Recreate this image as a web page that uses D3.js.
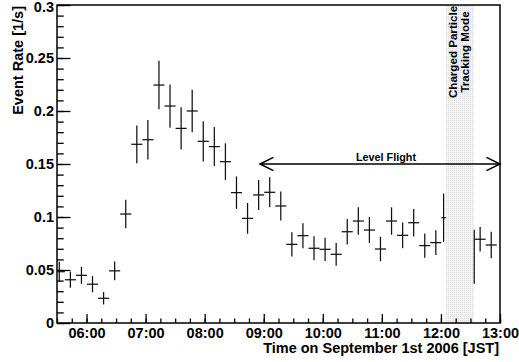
<!DOCTYPE html>
<html>
<head>
<meta charset="utf-8">
<script src="https://cdn.jsdelivr.net/npm/d3@7"></script>
<style>
  html, body { margin: 0; padding: 0; background: #fff; }
  svg { display: block; }
  text { font-family: "Liberation Sans", Arial, Helvetica, sans-serif; font-weight: bold; fill: #000; }
</style>
</head>
<body>
<svg id="chart" width="519" height="362"></svg>
<script>
// ---------------- data ----------------
const binStart = ["05:26:42","05:37:57","05:49:12","06:00:27","06:11:42","06:22:57","06:34:12","06:45:27",
  "06:56:42","07:07:57","07:19:12","07:30:27","07:41:42","07:52:57","08:04:12","08:15:27","08:26:42",
  "08:37:57","08:49:12","09:00:27","09:11:42","09:22:57","09:34:12","09:45:27","09:56:42","10:07:57",
  "10:19:12","10:30:27","10:41:42","10:52:57","11:04:12","11:15:27","11:26:42","11:37:57","11:49:12",
  "12:00:27","12:33:30","12:34:12","12:45:27"];
const binEnd = ["05:37:57","05:49:12","06:00:27","06:11:42","06:22:57","06:34:12","06:45:27","06:56:42",
  "07:07:57","07:19:12","07:30:27","07:41:42","07:52:57","08:04:12","08:15:27","08:26:42","08:37:57",
  "08:49:12","09:00:27","09:11:42","09:22:57","09:34:12","09:45:27","09:56:42","10:07:57","10:19:12",
  "10:30:27","10:41:42","10:52:57","11:04:12","11:15:27","11:26:42","11:37:57","11:49:12","12:00:27",
  "12:05:00","12:34:12","12:45:27","12:56:42"];
const rates = [0.0484,0.0408,0.0450,0.0366,0.0233,0.0492,0.1028,0.1686,0.1729,0.2245,0.2047,0.1836,
  0.2000,0.1714,0.1664,0.1522,0.1230,0.0987,0.1208,0.1233,0.1104,0.0742,0.0824,0.0705,0.0695,0.0648,
  0.0861,0.0962,0.0877,0.0698,0.0962,0.0827,0.0946,0.0730,0.0758,0.0993,0.0625,0.0790,0.0736];
const errors = [0.0094,0.0075,0.0080,0.0077,0.0058,0.0089,0.0134,0.0178,0.0186,0.0228,0.0204,0.0200,
  0.0201,0.0190,0.0184,0.0173,0.0153,0.0145,0.0142,0.0142,0.0137,0.0115,0.0118,0.0113,0.0110,0.0107,
  0.0121,0.0129,0.0123,0.0115,0.0129,0.0121,0.0129,0.0115,0.0116,0.0228,0.0255,0.0116,0.0126];

const xDomain = ["05:30:00", "13:00:00"];
const xTicks = ["06:00:00","07:00:00","08:00:00","09:00:00","10:00:00","11:00:00","12:00:00","13:00:00"];
const xTickLabels = ["06:00","07:00","08:00","09:00","10:00","11:00","12:00","13:00"];
const yDomain = [0, 0.3];
const yTicks = [0, 0.05, 0.1, 0.15, 0.2, 0.25, 0.3];
const yTickLabels = ["0", "0.05", "0.1", "0.15", "0.2", "0.25", "0.3"];

const bandTimes = ["12:05:00", "12:33:30"];
const bandLabel = ["Charged Particle", "Tracking Mode"];
const levelFlightTimes = ["08:56:10", "13:00:00"];
const levelFlightLabel = "Level Flight";
const xTitle = "Time on September 1st 2006 [JST]";
const yTitle = "Event Rate [1/s]";

// ---------------- layout ----------------
const mLeft = 57, mRight = 500, mTop = 5, mBottom = 323;
const FS = 14.5;

const parse = d3.timeParse("%H:%M:%S");
const x = d3.scaleTime().domain(xDomain.map(parse)).range([mLeft, mRight]);
const y = d3.scaleLinear().domain(yDomain).range([mBottom, mTop]);

const svg = d3.select("#chart");
const defs = svg.append("defs");
const pat = defs.append("pattern").attr("id", "dots").attr("patternUnits", "userSpaceOnUse")
  .attr("width", 2).attr("height", 2);
pat.append("rect").attr("width", 2).attr("height", 2).attr("fill", "#f4f4f4");
pat.append("rect").attr("width", 1).attr("height", 1).attr("fill", "#dcdcdc");
defs.append("clipPath").attr("id", "plotclip").append("rect")
  .attr("x", mLeft).attr("y", mTop).attr("width", mRight - mLeft).attr("height", mBottom - mTop);

// shaded band
const b0 = x(parse(bandTimes[0])), b1 = x(parse(bandTimes[1]));
svg.append("rect").attr("x", b0).attr("y", mTop).attr("width", b1 - b0).attr("height", mBottom - mTop)
  .attr("fill", "url(#dots)");

// band label
const bandG = svg.append("g");
bandLabel.forEach((t, i) => {
  bandG.append("text")
    .attr("transform", `translate(${b0 + 10.8 + i * 12},52) rotate(-90)`)
    .attr("text-anchor", "middle")
    .attr("font-size", 11.6)
    .text(t);
});

// axes (ticks inward)
const xAxisMinor = d3.axisBottom(x).ticks(d3.timeMinute.every(15)).tickSizeInner(-4.5).tickSizeOuter(0).tickFormat("");
const xAxisMajor = d3.axisBottom(x).tickValues(xTicks.map(parse)).tickSizeInner(-9).tickSizeOuter(0)
  .tickPadding(5).tickFormat((d, i) => xTickLabels[i]);
const yAxisMinor = d3.axisLeft(y).ticks(30).tickSizeInner(-6.7).tickSizeOuter(0).tickFormat("");
const yAxisMajor = d3.axisLeft(y).tickValues(yTicks).tickSizeInner(-13.5).tickSizeOuter(0)
  .tickPadding(3).tickFormat((d, i) => yTickLabels[i]);

function styleAxis(g) {
  g.select(".domain").remove();
  g.selectAll(".tick line").attr("stroke", "#000").attr("stroke-width", 1.3);
  g.selectAll(".tick text").attr("font-size", FS).attr("font-family", null).attr("font-weight", "bold");
}
svg.append("g").attr("transform", `translate(0,${mBottom})`).call(xAxisMinor).call(styleAxis);
svg.append("g").attr("transform", `translate(0,${mBottom})`).call(xAxisMajor).call(styleAxis);
svg.append("g").attr("transform", `translate(${mLeft},0)`).call(yAxisMinor).call(styleAxis);
const yMaj = svg.append("g").attr("transform", `translate(${mLeft},0)`).call(yAxisMajor).call(styleAxis);
// keep the top label inside the picture, as in the reference
yMaj.selectAll(".tick text").filter(d => d === yDomain[1]).attr("dy", "0.47em");

// frame
svg.append("rect").attr("x", mLeft).attr("y", mTop).attr("width", mRight - mLeft).attr("height", mBottom - mTop)
  .attr("fill", "none").attr("stroke", "#000").attr("stroke-width", 1.5);

// data crosses
const data = rates.map((r, i) => ({
  s: parse(binStart[i]), e: parse(binEnd[i]), r, err: errors[i]
}));
const pts = svg.append("g").attr("clip-path", "url(#plotclip)")
  .attr("stroke", "#111").attr("stroke-width", 1.25).attr("fill", "none");
pts.selectAll("line.h").data(data).join("line").attr("class", "h")
  .attr("x1", d => x(d.s)).attr("x2", d => x(d.e))
  .attr("y1", d => y(d.r)).attr("y2", d => y(d.r));
pts.selectAll("line.v").data(data).join("line").attr("class", "v")
  .attr("x1", d => (x(d.s) + x(d.e)) / 2).attr("x2", d => (x(d.s) + x(d.e)) / 2)
  .attr("y1", d => y(d.r - d.err)).attr("y2", d => y(d.r + d.err));

// Level flight arrow
const lf0 = x(parse(levelFlightTimes[0])), lf1 = x(parse(levelFlightTimes[1]));
const ay = 164, ah = 13.5, aw = 6.7;
const arrow = svg.append("g").attr("stroke", "#000").attr("stroke-width", 1.5).attr("fill", "none");
arrow.append("line").attr("x1", lf0).attr("x2", lf1).attr("y1", ay).attr("y2", ay);
arrow.append("path").attr("d", `M${lf0 + ah},${ay - aw}L${lf0},${ay}L${lf0 + ah},${ay + aw}`);
arrow.append("path").attr("d", `M${lf1 - ah},${ay - aw}L${lf1},${ay}L${lf1 - ah},${ay + aw}`);
svg.append("text").attr("x", 386).attr("y", 161).attr("text-anchor", "middle")
  .attr("font-size", 10.8).text(levelFlightLabel);

// titles
svg.append("text").attr("x", 499).attr("y", 353).attr("text-anchor", "end")
  .attr("font-size", FS).text(xTitle);
svg.append("text").attr("transform", `translate(22.7,${mTop + 1}) rotate(-90)`).attr("text-anchor", "end")
  .attr("font-size", FS).text(yTitle);
</script>
</body>
</html>
